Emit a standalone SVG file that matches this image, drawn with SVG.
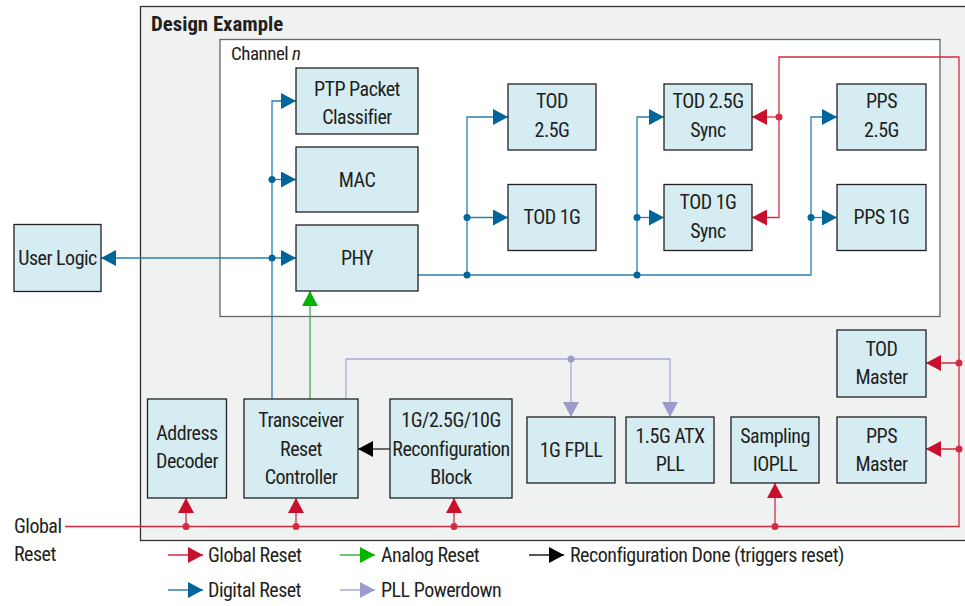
<svg xmlns="http://www.w3.org/2000/svg" width="965" height="606" viewBox="0 0 965 606">
<defs>
<style>
text{font-family:"Roboto Condensed","Liberation Sans Narrow","DejaVu Sans Condensed","Liberation Sans",sans-serif;font-size:20px;fill:#231f20;letter-spacing:-0.5px}
.lbl{text-anchor:middle}
.box{fill:#d5ecf3;stroke:#231f20;stroke-width:1.3}
.c{fill:none;stroke-width:1.3}
.red{stroke:#d42a42}
.blue{stroke:#2b7fae}
.green{stroke:#3cb043}
.blk{stroke:#231f20}
.lav{stroke:#a8a8d8}
.dr{fill:#d42a42}
.db{fill:#00679a}
.dl{fill:#9c9ccc}
</style>
<marker id="aR" viewBox="0 0 15 16" refX="15" refY="8" markerWidth="15" markerHeight="16" markerUnits="userSpaceOnUse" orient="auto-start-reverse"><path d="M0,0 L15,8 L0,16 z" fill="#c8102e"/></marker>
<marker id="aB" viewBox="0 0 15 16" refX="15" refY="8" markerWidth="15" markerHeight="16" markerUnits="userSpaceOnUse" orient="auto-start-reverse"><path d="M0,0 L15,8 L0,16 z" fill="#00659a"/></marker>
<marker id="aG" viewBox="0 0 15 16" refX="15" refY="8" markerWidth="15" markerHeight="16" markerUnits="userSpaceOnUse" orient="auto-start-reverse"><path d="M0,0 L15,8 L0,16 z" fill="#00b400"/></marker>
<marker id="aK" viewBox="0 0 15 16" refX="15" refY="8" markerWidth="15" markerHeight="16" markerUnits="userSpaceOnUse" orient="auto-start-reverse"><path d="M0,0 L15,8 L0,16 z" fill="#000"/></marker>
<marker id="aL" viewBox="0 0 15 16" refX="15" refY="8" markerWidth="15" markerHeight="16" markerUnits="userSpaceOnUse" orient="auto-start-reverse"><path d="M0,0 L15,8 L0,16 z" fill="#9c9ccc"/></marker>
</defs>
<rect width="965" height="606" fill="#fff"/>
<g id="design-example">
<rect x="140.5" y="6.5" width="840" height="534" fill="#f0f2f2" stroke="#333" stroke-width="1.3"/>
<text x="151" y="31" style="font-weight:bold;letter-spacing:0;font-size:20.8px">Design Example</text>
</g>
<g id="channel-n">
<rect x="220" y="39.5" width="720" height="277" fill="#fff" stroke="#666" stroke-width="1.3"/>
<text x="231" y="60" style="font-size:19px">Channel <tspan font-style="italic">n</tspan></text>
</g>

<g id="connectors">
<!-- digital reset -->
<path class="c blue" d="M272,399 V101 H296" marker-end="url(#aB)"/>
<path class="c blue" d="M272,179.5 H296" marker-end="url(#aB)"/>
<path class="c blue" d="M101,258 H296" marker-start="url(#aB)" marker-end="url(#aB)"/>
<path class="c blue" d="M418,275 H811 V117 H837" marker-end="url(#aB)"/>
<path class="c blue" d="M467,275 V117 H508" marker-end="url(#aB)"/>
<path class="c blue" d="M467,217.5 H508" marker-end="url(#aB)"/>
<path class="c blue" d="M637,275 V117 H664" marker-end="url(#aB)"/>
<path class="c blue" d="M637,217.5 H664" marker-end="url(#aB)"/>
<path class="c blue" d="M811,217.5 H837" marker-end="url(#aB)"/>
<circle class="db" cx="272" cy="179.5" r="3.5"/>
<circle class="db" cx="272" cy="258" r="3.5"/>
<circle class="db" cx="467" cy="275" r="3.5"/>
<circle class="db" cx="467" cy="217.5" r="3.5"/>
<circle class="db" cx="637" cy="275" r="3.5"/>
<circle class="db" cx="637" cy="217.5" r="3.5"/>
<circle class="db" cx="811" cy="217.5" r="3.5"/>
<!-- global reset -->
<path class="c red" d="M65,526.5 H959 V57 H779 V217.5 H752" marker-end="url(#aR)"/>
<path class="c red" d="M779,117 H752" marker-end="url(#aR)"/>
<path class="c red" d="M959,363 H926" marker-end="url(#aR)"/>
<path class="c red" d="M959,449 H926" marker-end="url(#aR)"/>
<path class="c red" d="M186,526.5 V498" marker-end="url(#aR)"/>
<path class="c red" d="M296,526.5 V498" marker-end="url(#aR)"/>
<path class="c red" d="M454,526.5 V498" marker-end="url(#aR)"/>
<path class="c red" d="M775,526.5 V483" marker-end="url(#aR)"/>
<circle class="dr" cx="779" cy="117" r="3.5"/>
<circle class="dr" cx="959" cy="363" r="3.5"/>
<circle class="dr" cx="959" cy="449" r="3.5"/>
<circle class="dr" cx="186" cy="526.5" r="3.5"/>
<circle class="dr" cx="296" cy="526.5" r="3.5"/>
<circle class="dr" cx="454" cy="526.5" r="3.5"/>
<circle class="dr" cx="775" cy="526.5" r="3.5"/>
<!-- analog reset -->
<path class="c green" d="M310,399 V291" marker-end="url(#aG)"/>
<!-- reconfiguration done -->
<path class="c blk" d="M390,449 H358" marker-end="url(#aK)"/>
<!-- PLL powerdown -->
<path class="c lav" d="M346,399 V359 H670 V417" marker-end="url(#aL)"/>
<path class="c lav" d="M571,359 V417" marker-end="url(#aL)"/>
<circle class="dl" cx="571" cy="359" r="3.5"/>
</g>

<g id="user-logic"><rect class="box" x="14" y="224.5" width="87" height="67"/><text class="lbl" x="57.5" y="265">User Logic</text></g>
<g id="ptp-packet-classifier"><rect class="box" x="296" y="68" width="122" height="66"/><text class="lbl" x="357" y="96">PTP Packet</text><text class="lbl" x="357" y="124">Classifier</text></g>
<g id="mac"><rect class="box" x="296" y="147" width="122" height="65"/><text class="lbl" x="357" y="187">MAC</text></g>
<g id="phy"><rect class="box" x="296" y="225" width="122" height="66"/><text class="lbl" x="357" y="265">PHY</text></g>
<g id="tod-2-5g"><rect class="box" x="508" y="84" width="88" height="66"/><text class="lbl" x="552" y="108">TOD</text><text class="lbl" x="552" y="137">2.5G</text></g>
<g id="tod-1g"><rect class="box" x="508" y="184.5" width="88" height="66"/><text class="lbl" x="552" y="224">TOD 1G</text></g>
<g id="tod-2-5g-sync"><rect class="box" x="664" y="84" width="88" height="66"/><text class="lbl" x="708" y="108">TOD 2.5G</text><text class="lbl" x="708" y="137">Sync</text></g>
<g id="tod-1g-sync"><rect class="box" x="664" y="184.5" width="88" height="66"/><text class="lbl" x="708" y="209">TOD 1G</text><text class="lbl" x="708" y="238">Sync</text></g>
<g id="pps-2-5g"><rect class="box" x="837" y="84" width="89" height="66"/><text class="lbl" x="881.5" y="108">PPS</text><text class="lbl" x="881.5" y="137">2.5G</text></g>
<g id="pps-1g"><rect class="box" x="837" y="184.5" width="89" height="66"/><text class="lbl" x="881.5" y="224">PPS 1G</text></g>
<g id="tod-master"><rect class="box" x="837" y="330" width="89" height="67"/><text class="lbl" x="881.5" y="356">TOD</text><text class="lbl" x="881.5" y="384">Master</text></g>
<g id="pps-master"><rect class="box" x="837" y="417" width="89" height="66"/><text class="lbl" x="881.5" y="443">PPS</text><text class="lbl" x="881.5" y="471">Master</text></g>
<g id="address-decoder"><rect class="box" x="147.5" y="399" width="79" height="99"/><text class="lbl" x="187" y="440">Address</text><text class="lbl" x="187" y="468">Decoder</text></g>
<g id="transceiver-reset-controller"><rect class="box" x="244" y="399" width="114" height="99"/><text class="lbl" x="301" y="427">Transceiver</text><text class="lbl" x="301" y="456">Reset</text><text class="lbl" x="301" y="484">Controller</text></g>
<g id="reconfiguration-block"><rect class="box" x="390" y="399" width="122" height="99"/><text class="lbl" x="451" y="427">1G/2.5G/10G</text><text class="lbl" x="451" y="456">Reconfiguration</text><text class="lbl" x="451" y="484">Block</text></g>
<g id="fpll-1g"><rect class="box" x="527" y="417" width="88" height="66"/><text class="lbl" x="571" y="457">1G FPLL</text></g>
<g id="atx-pll"><rect class="box" x="626" y="417" width="88" height="66"/><text class="lbl" x="670" y="443">1.5G ATX</text><text class="lbl" x="670" y="471">PLL</text></g>
<g id="sampling-iopll"><rect class="box" x="731" y="417" width="88" height="66"/><text class="lbl" x="775" y="443">Sampling</text><text class="lbl" x="775" y="471">IOPLL</text></g>

<g id="global-reset-label"><text x="14" y="533">Global</text><text x="14" y="561">Reset</text></g>

<g id="legend">
<path class="c red" d="M168,555 H203" marker-end="url(#aR)"/><text x="208" y="562">Global Reset</text>
<path class="c green" d="M340,555 H375" marker-end="url(#aG)"/><text x="381" y="562">Analog Reset</text>
<path class="c blk" d="M529,555 H564" marker-end="url(#aK)"/><text x="570" y="562">Reconfiguration Done (triggers reset)</text>
<path class="c blue" d="M168,590 H203" marker-end="url(#aB)"/><text x="208" y="597">Digital Reset</text>
<path class="c lav" d="M340,590 H375" marker-end="url(#aL)"/><text x="381" y="597">PLL Powerdown</text>
</g>
</svg>
